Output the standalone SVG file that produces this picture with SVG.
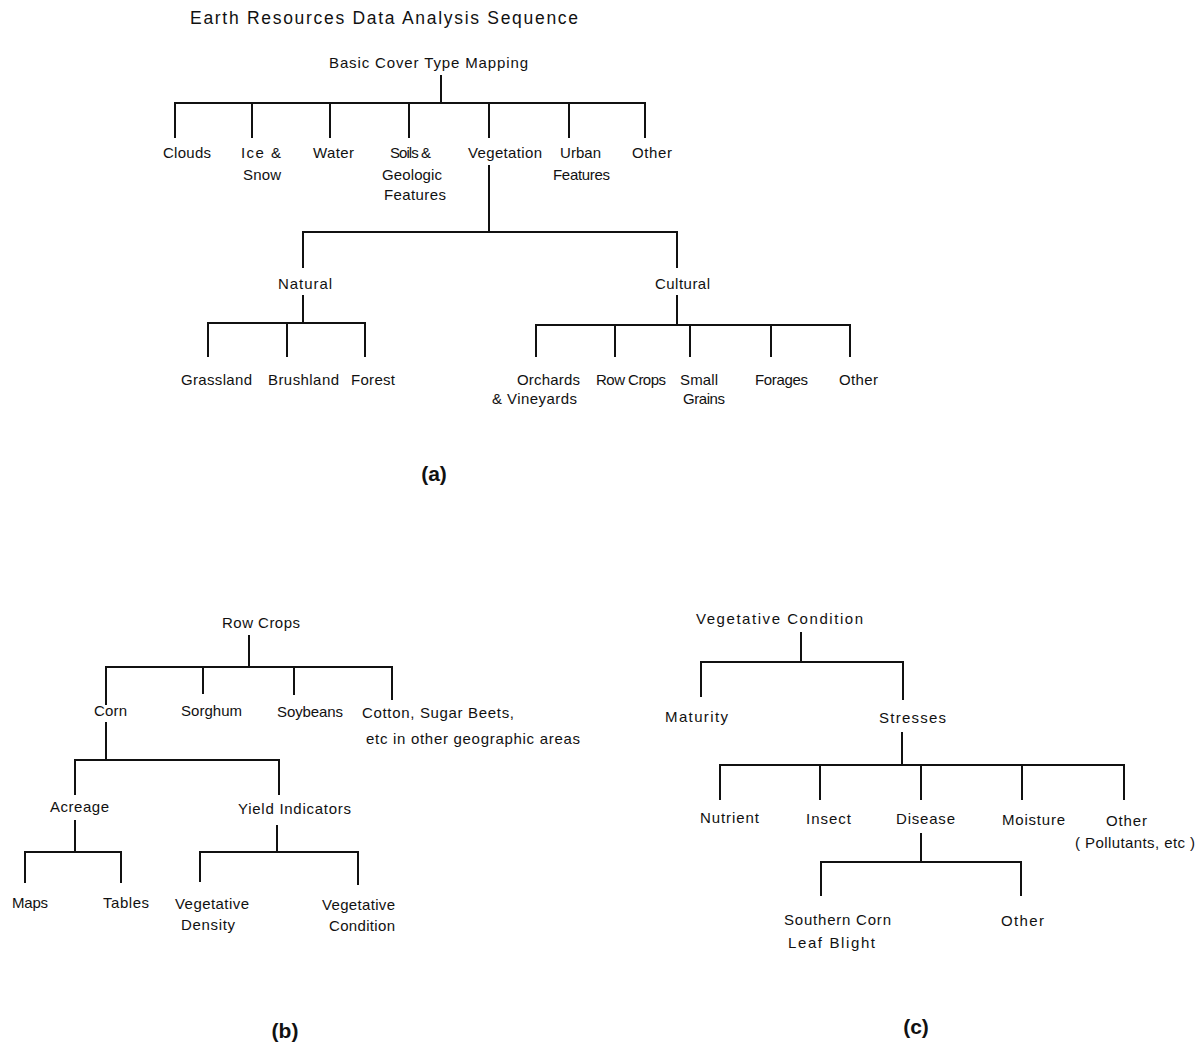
<svg xmlns="http://www.w3.org/2000/svg" width="1199" height="1049" viewBox="0 0 1199 1049">
<style>
text{font-family:"Liberation Sans",Arial,sans-serif;font-size:15px;fill:#111}
.t{font-size:17.5px}
.lbl{font-size:21px;font-weight:bold}
.c path{fill:none;stroke:#111;stroke-width:2}
</style>
<rect width="1199" height="1049" fill="#fff"/>
<g id="connectors" class="c">
<path d="M441 75V103M175 138V103H645V138M252 103V138M330 103V138M409 103V138M489 103V138M569 103V138"/>
<path d="M489 165V232M303 268V232H677V268"/>
<path d="M303 295V323M208 357V323H365V357M287 323V357"/>
<path d="M677 295V325M536 357V325H850V357M615 325V357M690 325V357M771 325V357"/>
<path d="M249 635V667M106 705V667H392V700M203 667V694M294 667V695"/>
<path d="M106 722V760M75 795V760H279V795"/>
<path d="M75 820V852M25 883V852H121V883"/>
<path d="M277 825V852M200 882V852H358V885"/>
<path d="M801 632V662M701 697V662H903V700"/>
<path d="M902 732V765M720 800V765H1124V800M820 765V800M921 765V800M1022 765V800"/>
<path d="M921 833V862M821 896V862H1021V896"/>
</g>
<text class="t" x="190" y="24" textLength="388">Earth Resources Data Analysis Sequence</text>
<g id="n-basic"><text x="329" y="68" textLength="199">Basic Cover Type Mapping</text></g>
<g id="n-clouds"><text x="163" y="158" textLength="48">Clouds</text></g>
<g id="n-ice"><text x="241" y="158" textLength="40">Ice &amp;</text><text x="243" y="180" textLength="38">Snow</text></g>
<g id="n-water"><text x="313" y="158" textLength="41">Water</text></g>
<g id="n-soils"><text x="390" y="158" textLength="41">Soils &amp;</text><text x="382" y="180" textLength="60">Geologic</text><text x="384" y="200" textLength="62">Features</text></g>
<g id="n-veg"><text x="468" y="158" textLength="74">Vegetation</text></g>
<g id="n-urban"><text x="560" y="158" textLength="41">Urban</text><text x="553" y="180" textLength="57">Features</text></g>
<g id="n-other1"><text x="632" y="158" textLength="40">Other</text></g>
<g id="n-natural"><text x="278" y="289" textLength="54">Natural</text></g>
<g id="n-cultural"><text x="655" y="289" textLength="55">Cultural</text></g>
<g id="n-grass"><text x="181" y="385" textLength="71">Grassland</text></g>
<g id="n-brush"><text x="268" y="385" textLength="71">Brushland</text></g>
<g id="n-forest"><text x="351" y="385" textLength="44">Forest</text></g>
<g id="n-orch"><text x="517" y="385" textLength="63">Orchards</text><text x="492" y="404" textLength="85">&amp; Vineyards</text></g>
<g id="n-rowcrops"><text x="596" y="385" textLength="70">Row Crops</text></g>
<g id="n-small"><text x="680" y="385" textLength="38">Small</text><text x="683" y="404" textLength="42">Grains</text></g>
<g id="n-forages"><text x="755" y="385" textLength="53">Forages</text></g>
<g id="n-other2"><text x="839" y="385" textLength="39">Other</text></g>
<text class="lbl" x="434" y="481" text-anchor="middle">(a)</text>
<g id="b-row"><text x="222" y="628" textLength="78">Row Crops</text></g>
<g id="b-corn"><text x="94" y="716" textLength="33">Corn</text></g>
<g id="b-sorghum"><text x="181" y="716" textLength="61">Sorghum</text></g>
<g id="b-soy"><text x="277" y="717" textLength="66">Soybeans</text></g>
<g id="b-cotton"><text x="362" y="718" textLength="152">Cotton, Sugar Beets,</text><text x="366" y="744" textLength="214">etc  in other geographic areas</text></g>
<g id="b-acreage"><text x="50" y="812" textLength="59">Acreage</text></g>
<g id="b-yield"><text x="238" y="814" textLength="113">Yield Indicators</text></g>
<g id="b-maps"><text x="12" y="908" textLength="36">Maps</text></g>
<g id="b-tables"><text x="103" y="908" textLength="46">Tables</text></g>
<g id="b-density"><text x="175" y="909" textLength="74">Vegetative</text><text x="181" y="930" textLength="54">Density</text></g>
<g id="b-cond"><text x="322" y="910" textLength="73">Vegetative</text><text x="329" y="931" textLength="66">Condition</text></g>
<text class="lbl" x="285" y="1038" text-anchor="middle">(b)</text>
<g id="c-vc"><text x="696" y="624" textLength="167">Vegetative  Condition</text></g>
<g id="c-mat"><text x="665" y="722" textLength="63">Maturity</text></g>
<g id="c-str"><text x="879" y="723" textLength="67">Stresses</text></g>
<g id="c-nut"><text x="700" y="823" textLength="59">Nutrient</text></g>
<g id="c-ins"><text x="806" y="824" textLength="45">Insect</text></g>
<g id="c-dis"><text x="896" y="824" textLength="59">Disease</text></g>
<g id="c-moi"><text x="1002" y="825" textLength="63">Moisture</text></g>
<g id="c-oth"><text x="1106" y="826" textLength="41">Other</text><text x="1075" y="848" textLength="120">( Pollutants, etc )</text></g>
<g id="c-scb"><text x="784" y="925" textLength="107">Southern Corn</text><text x="788" y="948" textLength="87">Leaf Blight</text></g>
<g id="c-oth2"><text x="1001" y="926" textLength="43">Other</text></g>
<text class="lbl" x="916" y="1034" text-anchor="middle">(c)</text>
</svg>
